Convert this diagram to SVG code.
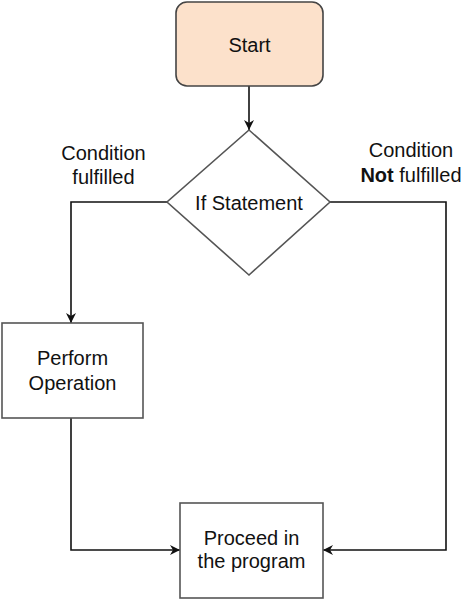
<svg xmlns="http://www.w3.org/2000/svg" width="474" height="599" viewBox="0 0 474 599">
<style>
.t{font-family:"Liberation Sans",Arial,sans-serif;font-size:20px;fill:#111;text-anchor:middle}
.b{font-weight:bold}
.node{fill:#fff;stroke:#555;stroke-width:1.6}
.edge{fill:none;stroke:#111;stroke-width:1.6}
</style>
<defs>
<marker id="arr" viewBox="0 0 10 10" refX="10" refY="5" markerWidth="11" markerHeight="10" orient="auto" markerUnits="userSpaceOnUse">
<path d="M0,0 L10,5 L0,10 L3,5 Z" fill="#111"/>
</marker>
</defs>
<rect width="474" height="599" fill="#fff"/>
<g id="edges">
<path class="edge" d="M249,86 V130" marker-end="url(#arr)"/>
<path class="edge" d="M167,202 H71 V323" marker-end="url(#arr)"/>
<path class="edge" d="M330,202 H446 V550 H323" marker-end="url(#arr)"/>
<path class="edge" d="M71,418 V550 H180" marker-end="url(#arr)"/>
</g>
<g id="start">
<rect x="176" y="2" width="147" height="84" rx="11" fill="#fce1cb" stroke="#444" stroke-width="1.6"/>
<text class="t" x="249.5" y="52">Start</text>
</g>
<g id="if">
<polygon class="node" points="249,130 330,202 249,275 167,202"/>
<text class="t" x="249" y="210">If Statement</text>
</g>
<g id="perform">
<rect class="node" x="2" y="323" width="141" height="95"/>
<text class="t" x="72.5" y="365">Perform</text>
<text class="t" x="72.5" y="390">Operation</text>
</g>
<g id="proceed">
<rect class="node" x="180" y="503" width="143" height="95"/>
<text class="t" x="251.5" y="545">Proceed in</text>
<text class="t" x="251.5" y="568">the program</text>
</g>
<g id="labels">
<text class="t" x="103.5" y="160">Condition</text>
<text class="t" x="103.5" y="184">fulfilled</text>
<text class="t" x="411" y="157">Condition</text>
<text class="t" x="411" y="182"><tspan class="b">Not</tspan> fulfilled</text>
</g>
</svg>
